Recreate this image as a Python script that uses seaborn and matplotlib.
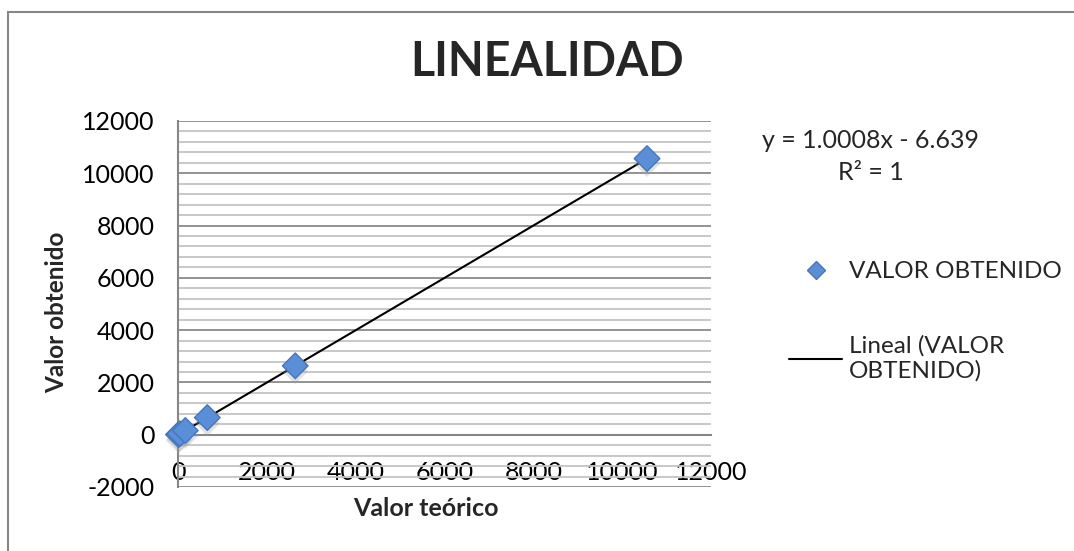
import numpy as np
import pandas as pd
import matplotlib
matplotlib.use("Agg")
import matplotlib.pyplot as plt
import matplotlib.patheffects as pe
from matplotlib.lines import Line2D
from matplotlib.patches import Rectangle
from matplotlib.ticker import MultipleLocator
import seaborn as sns

# Theoretical vs. measured values (serial 1:4 dilutions)
valor_teorico = [10.3, 41.25, 165.0, 660.0, 2640.0, 10560.0]
valor_obtenido = [5.0, 35.0, 160.0, 655.0, 2635.0, 10562.0]

# Linear trendline coefficients
pendiente = 1.0008
intercepto = -6.639
r2 = 1

serie = "VALOR OBTENIDO"
x_ticks = [0, 2000, 4000, 6000, 8000, 10000, 12000]
y_ticks = [-2000, 0, 2000, 4000, 6000, 8000, 10000, 12000]

sns.set_style("white")
plt.rcParams["font.family"] = ["Lato", "DejaVu Sans"]

df = pd.DataFrame({"teorico": valor_teorico, "obtenido": valor_obtenido})
x_lin = np.array([min(valor_teorico), max(valor_teorico)])
df_lin = pd.DataFrame({"x": x_lin, "y": pendiente * x_lin + intercepto})

fig = plt.figure(figsize=(10.74, 5.51), dpi=100)
W, H = 1074, 551
ax = fig.add_axes([178 / W, 1 - 487 / H, (711 - 178) / W, (487 - 121) / H])

# chart frame
fig.patches.append(Rectangle((8 / W, -0.05), 1.2, 1.05 - 12 / H, transform=fig.transFigure,
                             fill=False, ec="#878787", lw=1.5, zorder=0))

# gridlines: light minor every 400, darker major every 2000
ax.set_xlim(0, 12000)
ax.set_ylim(-2000, 12000)
ax.set_xticks(x_ticks)
ax.set_yticks(y_ticks)
ax.yaxis.set_minor_locator(MultipleLocator(400))
ax.grid(False)
ax.grid(True, axis="y", which="minor", color="#C4C4C4", lw=1.3, zorder=0)
ax.grid(True, axis="y", which="major", color="#8A8A8A", lw=1.3, zorder=0)
ax.tick_params(axis="y", which="minor", length=0)

for side in ["top", "right"]:
    ax.spines[side].set_visible(False)
ax.spines["left"].set_color("#868686")
ax.spines["left"].set_linewidth(1.5)
ax.spines["bottom"].set_position(("data", 0))
ax.spines["bottom"].set_color("#868686")
ax.spines["bottom"].set_linewidth(1.5)

ax.tick_params(axis="both", which="major", direction="out", length=6, width=1.3,
               color="#868686", labelsize=18, labelcolor="black")
ax.tick_params(axis="y", pad=11)
ax.tick_params(axis="x", pad=13)
ax.set_xticklabels([str(v) for v in x_ticks])
ax.set_yticklabels([str(v) for v in y_ticks])

# trendline
sns.lineplot(data=df_lin, x="x", y="y", ax=ax, color="black", lw=1.5, zorder=3)

# data points
sns.scatterplot(data=df, x="teorico", y="obtenido", ax=ax, marker="D", s=170,
                color="#5A8FD8", edgecolor="#4676BB", linewidth=1.0, zorder=4,
                clip_on=False,
                path_effects=[pe.SimplePatchShadow(offset=(0, -4), shadow_rgbFace="#A0A0A0", alpha=0.3),
                              pe.Normal()])

ax.set_xlabel("")
ax.set_ylabel("")

fig.text(547 / W, 1 - 62 / H, "LINEALIDAD", ha="center", va="center",
         fontsize=33.5, fontweight="bold")
fig.text(57 / W, 1 - 312 / H, "Valor obtenido", ha="center", va="center",
         rotation=90, fontsize=17.5, fontweight="bold")
fig.text(426 / W, 1 - 508 / H, "Valor teórico", ha="center", va="center",
         fontsize=18, fontweight="bold")

signo = "-" if intercepto < 0 else "+"
fig.text(870 / W, 1 - 140 / H, f"y = {pendiente}x {signo} {abs(intercepto)}",
         ha="center", va="center", fontsize=18)
fig.text(871 / W, 1 - 172 / H, f"R² = {r2}", ha="center", va="center", fontsize=18)

# legend
h_pts = Line2D([], [], marker="D", ls="none", ms=9, mfc="#5A8FD8", mec="#4676BB")
h_lin = Line2D([], [], color="black", lw=1.5)
fig.legend([h_pts, h_lin], [serie, f"Lineal ({serie.split()[0]}\n{serie.split()[1]})"],
           loc="upper left", bbox_to_anchor=(789 / W, 1 - 261 / H), frameon=False,
           fontsize=17.5, handlelength=2.2, handletextpad=0.25, labelspacing=2.2,
           borderaxespad=0, borderpad=0)

fig.savefig("out.png", dpi=100)
